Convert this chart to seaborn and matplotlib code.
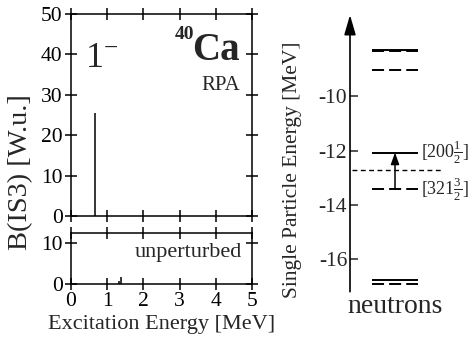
import seaborn as sns
import matplotlib.pyplot as plt

# data
rpa_energy = [0.66]
rpa_strength = [25.4]
unpert_energy = [1.33, 1.39]
unpert_strength = [0.8, 1.6]

solid_levels = [-8.29, -12.07, -16.76]
dashed_levels = [-8.34, -9.03, -13.42, -16.90]
fermi_level = -12.73
label_levels = [-12.07, -13.42]
label_texts = [r'$[200\frac{1}{2}]$', r'$[321\frac{3}{2}]$']
arrow_from, arrow_to = -13.42, -12.07

sns.set_style('ticks')
plt.rcParams['font.family'] = ['Liberation Serif', 'DejaVu Serif']
plt.rcParams['mathtext.fontset'] = 'custom'
plt.rcParams['mathtext.rm'] = 'Liberation Serif'
plt.rcParams['mathtext.bf'] = 'Liberation Serif:bold'
plt.rcParams['axes.unicode_minus'] = False

W, H = 474, 339
fig = plt.figure(figsize=(W / 100, H / 100), dpi=100)

# left panels
ax1 = fig.add_axes([71 / W, 1 - 216 / H, 181 / W, 202 / H])
ax2 = fig.add_axes([71 / W, 1 - 284 / H, 181 / W, 51 / H])

ax1.vlines(rpa_energy, 0, rpa_strength, color='k', lw=1.1)
ax2.vlines(unpert_energy, 0, unpert_strength, color='k', lw=1.1)

for ax in (ax1, ax2):
    ax.set_xlim(0, 5)
    ax.set_xticks(range(6))
    for s in ax.spines.values():
        s.set_linewidth(1.1)
        s.set_color('k')
    ax.tick_params(direction='inout', length=8, width=1.1, labelsize=15.5,
                   top=True, right=True, colors='k', pad=2)

ax1.set_ylim(0, 50)
ax1.set_yticks(range(0, 51, 10))
ax1.tick_params(labelbottom=False)
ax2.set_ylim(0, 12.5)
ax2.set_yticks([0, 10])
ax2.set_xlabel('Excitation Energy [MeV]', fontsize=16, labelpad=3)

ax1.text(0.39, 36.9, r'$\mathregular{1^{-}}$', fontsize=26, ha='left', va='baseline')
ax1.text(4.67, 38.6, 'Ca', fontsize=28, fontweight='bold', ha='right', va='baseline')
ax1.text(3.40, 47.0, '40', fontsize=14, fontweight='bold', ha='right', va='top')
ax1.text(4.67, 31.2, 'RPA', fontsize=15, ha='right', va='baseline')
ax2.text(4.72, 6.66, 'unperturbed', fontsize=16, ha='right', va='baseline')

fig.text(21 / W, 1 - 172 / H, 'B(IS3) [W.u.]', fontsize=20.5, rotation=90,
         ha='center', va='center')

# right panel: single particle levels
ax3 = fig.add_axes([350 / W, 1 - 291.7 / H, 124 / W, 276.7 / H])
ax3.set_xlim(0, 1)
ax3.set_ylim(-17.2, -7.0)
sns.despine(ax=ax3, left=True, bottom=True)
ax3.set_xticks([])
ax3.set_yticks([-16, -14, -12, -10])
ax3.tick_params(axis='y', direction='in', length=6, width=1.1, labelsize=15.5, pad=2)

ax3.hlines(solid_levels, 0.175, 0.55, color='k', lw=1.4)
ax3.hlines(dashed_levels, 0.175, 0.55, color='k', lw=1.4,
           linestyles=[(0, (6.2, 2.6))])
ax3.hlines([fermi_level], 0.015, 0.74, color='k', lw=1.0,
           linestyles=[(0, (3.5, 2.5))])
for lev, txt in zip(label_levels, label_texts):
    ax3.text(0.575, lev, txt, fontsize=13, ha='left', va='center', clip_on=False)

ax3.annotate('', xy=(0, -7.0), xytext=(0, -17.2),
             arrowprops=dict(arrowstyle='-|>,head_length=1.2,head_width=0.35',
                             lw=1.2, color='k', shrinkA=0, shrinkB=0),
             annotation_clip=False)
ax3.annotate('', xy=(0.363, arrow_to), xytext=(0.363, arrow_from),
             arrowprops=dict(arrowstyle='-|>,head_length=0.7,head_width=0.25',
                             lw=1.1, color='k', shrinkA=0, shrinkB=0))

ax3.text(0.363, -17.98, 'neutrons', fontsize=20, ha='center', va='baseline',
         clip_on=False)
fig.text(292 / W, 1 - 170 / H, 'Single Particle Energy [MeV]', fontsize=15.5,
         rotation=90, ha='center', va='center')

fig.savefig('out.png', dpi=100)
